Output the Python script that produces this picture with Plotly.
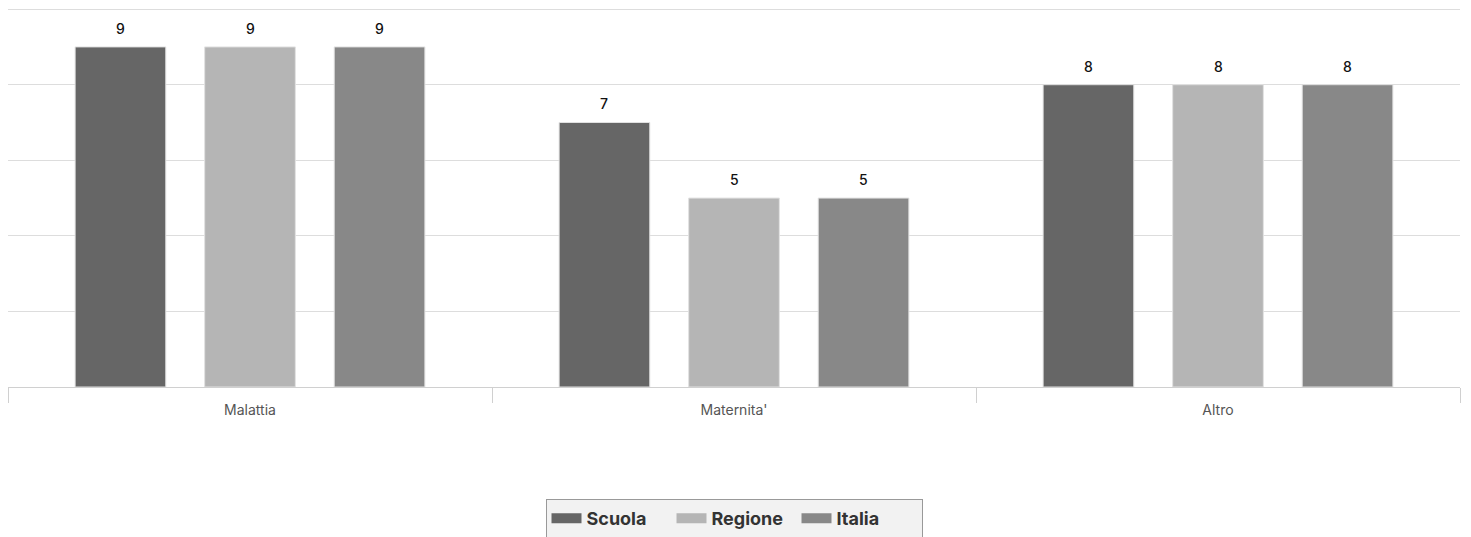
import plotly.graph_objects as go

categories = ["Malattia", "Maternita'", "Altro"]
series_names = ["Scuola", "Regione", "Italia"]
scuola = [9, 7, 8]
regione = [9, 5, 8]
italia = [9, 5, 8]
colors = ["#666666", "#b5b5b5", "#888888"]

values = [scuola, regione, italia]
bargap = 0.197
slot = (1 - bargap) / len(series_names)
FONT = "Inter, Roboto, sans-serif"

fig = go.Figure()
for name, vals, col in zip(series_names, values, colors):
    fig.add_trace(go.Bar(
        name=name, x=categories, y=vals, showlegend=False,
        marker=dict(color=col, line=dict(color="#e2e2e2", width=1)),
    ))
# legend-only entries with rectangular swatches
for name, col in zip(series_names, colors):
    fig.add_trace(go.Scatter(
        name=name, x=[None], y=[None], mode="lines",
        line=dict(color=col, width=18), showlegend=True,
    ))

annotations = []
for si, vals in enumerate(values):
    off = (si - (len(series_names) - 1) / 2) * slot
    for ci, v in enumerate(vals):
        annotations.append(dict(
            x=ci + off, y=v, xref="x", yref="y", text=str(v),
            showarrow=False, yanchor="bottom", yshift=8,
            font=dict(family=FONT, size=14, color="#111111", weight=500),
        ))

fig.update_layout(
    width=1455, height=530,
    barmode="group", bargap=bargap, bargroupgap=0.30,
    plot_bgcolor="white", paper_bgcolor="white",
    margin=dict(l=0, r=3, t=0, b=150),
    font=dict(family=FONT),
    annotations=annotations,
    showlegend=True,
    legend=dict(
        orientation="h", x=0.5, xanchor="center", y=-0.2947, yanchor="top",
        bgcolor="#f2f2f2", bordercolor="#999999", borderwidth=1,
        font=dict(size=18, color="#333333", family=FONT, weight="bold"),
        itemwidth=30, entrywidth=80,
    ),
)
fig.update_xaxes(
    type="category", showgrid=False, showline=True, linecolor="#d0d0d0", linewidth=1,
    ticks="outside", tickson="boundaries", ticklen=15, tickcolor="#d0d0d0",
    tickfont=dict(size=14, color="#555555"), ticklabelstandoff=10,
)
fig.update_yaxes(
    range=[0, 10.03], tickvals=[0, 2, 4, 6, 8, 10], showgrid=True, gridcolor="#dddddd", gridwidth=1,
    showticklabels=False, zeroline=False, showline=False,
)

fig.write_html("out.html")
